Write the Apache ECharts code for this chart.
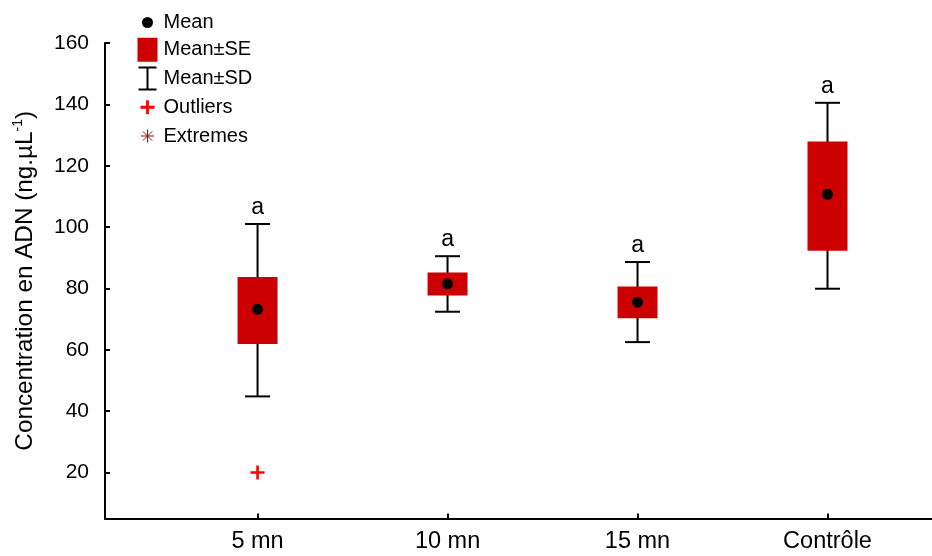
<!DOCTYPE html>
<html>
<head>
<meta charset="utf-8">
<script src="https://cdn.jsdelivr.net/npm/echarts@6/dist/echarts.min.js"></script>
<style>
html,body{margin:0;padding:0;background:#fff;}
#chart{width:932px;height:556px;}
</style>
</head>
<body>
<div id="chart"></div>
<script>
// ---- data ----
const categories = ['5 mn', '10 mn', '15 mn', 'Contrôle'];
const xPositions = [1, 2, 3, 4];
const means  = [73.2, 81.5, 75.5, 110.7];
const seLow  = [61.9, 77.7, 70.3, 92.3];
const seHigh = [83.7, 85.2, 80.6, 127.9];
const sdLow  = [44.8, 72.4, 62.5, 79.9];
const sdHigh = [101.0, 90.5, 88.6, 140.5];
const letters = ['a', 'a', 'a', 'a'];
const outlierCats = ['5 mn'];
const outlierValues = [20.0];
const yTicks = [20, 40, 60, 80, 100, 120, 140, 160];

const FONT = '"Liberation Sans", Arial, sans-serif';
const BOX_RED = '#cc0000';

const sdData = xPositions.map((x, i) => [x, sdLow[i], sdHigh[i]]);
const seData = xPositions.map((x, i) => [x, seLow[i], seHigh[i]]);
const meanData = xPositions.map((x, i) => [x, means[i]]);
const outlierData = outlierCats.map((c, i) => [xPositions[categories.indexOf(c)], outlierValues[i]]);

const chart = echarts.init(document.getElementById('chart'), null, {renderer: 'canvas'});

// legend icons drawn in an 18x22 box (strokes add to the outer size)
const iconMean = 'path://M0 0 M18 22 M3.5 11 A5.5 5.5 0 1 0 14.5 11 A5.5 5.5 0 1 0 3.5 11 Z';
const iconSE = 'path://M0 0 L18 0 L18 22 L0 22 Z';
const iconSD = 'path://M0 0 M18 22 M0 0 L18 0 M9 0 L9 22 M0 22 L18 22';
const iconOut = 'path://M0 0 M18 22 M7.6 4 L10.4 4 L10.4 9.6 L16 9.6 L16 12.4 L10.4 12.4 L10.4 18 L7.6 18 L7.6 12.4 L2 12.4 L2 9.6 L7.6 9.6 Z';
const iconExt = 'path://M0 0 M18 22 M9 4.5 L9 17.5 M2.5 11 L15.5 11 M4.4 6.4 L13.6 15.6 M13.6 6.4 L4.4 15.6';
const plusSymbol = 'path://M5.7 0 L8.3 0 L8.3 5.7 L14 5.7 L14 8.3 L8.3 8.3 L8.3 14 L5.7 14 L5.7 8.3 L0 8.3 L0 5.7 L5.7 5.7 Z';

const option = {
  animation: false,
  backgroundColor: '#fff',
  textStyle: {fontFamily: FONT, color: '#000'},
  grid: {left: 105, right: 0, top: 43, bottom: 37.5, containLabel: false},
  legend: {
    orient: 'vertical',
    left: 136,
    top: 10.5,
    padding: 0,
    itemWidth: 18,
    itemHeight: 22,
    itemGap: 3.25,
    selectedMode: false,
    textStyle: {fontSize: 20, lineHeight: 24, color: '#000', fontFamily: FONT, padding: [0, 0, 0, 2]},
    data: [
      {name: 'Mean', icon: iconMean, itemStyle: {color: '#000', borderWidth: 0, opacity: 1}},
      {name: 'Mean±SE', icon: iconSE, itemStyle: {color: BOX_RED, borderColor: BOX_RED, borderWidth: 2, opacity: 1}},
      {name: 'Mean±SD', icon: iconSD, itemStyle: {color: 'none', borderColor: '#000', borderWidth: 2, opacity: 1}},
      {name: 'Outliers', icon: iconOut, itemStyle: {color: '#ff0000', borderWidth: 0, opacity: 1}},
      {name: 'Extremes', icon: iconExt, itemStyle: {color: 'none', borderColor: '#8b1010', borderWidth: 1, opacity: 1}}
    ]
  },
  xAxis: {
    type: 'value',
    min: 0.197,
    max: 4.55,
    splitLine: {show: false},
    axisLine: {show: true, onZero: false, lineStyle: {color: '#000', width: 2}},
    axisTick: {show: true, inside: true, length: 5, customValues: xPositions, lineStyle: {color: '#000', width: 2}},
    axisLabel: {
      customValues: xPositions,
      margin: 11,
      fontSize: 23.5,
      color: '#000',
      fontFamily: FONT,
      formatter: v => categories[xPositions.indexOf(Math.round(v))] || ''
    }
  },
  yAxis: {
    type: 'value',
    min: 5,
    max: 160,
    splitLine: {show: false},
    axisLine: {show: true, onZero: false, lineStyle: {color: '#000', width: 2}},
    axisTick: {show: true, inside: true, length: 5, customValues: yTicks, lineStyle: {color: '#000', width: 2}},
    axisLabel: {customValues: yTicks, margin: 16, fontSize: 21, color: '#000', fontFamily: FONT},
    name: 'Concentration en ADN (ng.µL{sup|-1})',
    nameLocation: 'middle',
    nameGap: 66,
    nameTextStyle: {
      fontSize: 24.3, color: '#000', fontFamily: FONT, lineHeight: 28,
      rich: {sup: {fontSize: 14, verticalAlign: 'top', lineHeight: 28, color: '#000', fontFamily: FONT}}
    }
  },
  series: [
    {
      name: 'Mean±SD',
      type: 'custom',
      z: 2,
      data: sdData,
      encode: {x: 0, y: [1, 2]},
      renderItem: (params, api) => {
        const x = api.value(0);
        const top = api.coord([x, api.value(2)]);
        const bot = api.coord([x, api.value(1)]);
        const half = 12.5;
        const ls = {stroke: '#000', lineWidth: 2};
        return {
          type: 'group',
          children: [
            {type: 'line', shape: {x1: top[0], y1: top[1], x2: bot[0], y2: bot[1]}, style: ls},
            {type: 'line', shape: {x1: top[0] - half, y1: top[1], x2: top[0] + half, y2: top[1]}, style: ls},
            {type: 'line', shape: {x1: bot[0] - half, y1: bot[1], x2: bot[0] + half, y2: bot[1]}, style: ls},
            {type: 'text', style: {text: letters[params.dataIndex], x: top[0], y: top[1] - 16.5,
              align: 'center', verticalAlign: 'middle', fontSize: 23, fontFamily: FONT, fill: '#000'}}
          ]
        };
      }
    },
    {
      name: 'Mean±SE',
      type: 'custom',
      z: 3,
      data: seData,
      encode: {x: 0, y: [1, 2]},
      renderItem: (params, api) => {
        const x = api.value(0);
        const top = api.coord([x, api.value(2)]);
        const bot = api.coord([x, api.value(1)]);
        const half = 20;
        return {
          type: 'rect',
          shape: {x: top[0] - half, y: top[1], width: half * 2, height: bot[1] - top[1]},
          style: {fill: BOX_RED}
        };
      }
    },
    {
      name: 'Mean',
      type: 'scatter',
      z: 4,
      symbol: 'circle',
      symbolSize: 11,
      itemStyle: {color: '#000', opacity: 1},
      data: meanData
    },
    {
      name: 'Outliers',
      type: 'scatter',
      z: 4,
      symbol: plusSymbol,
      symbolSize: 14,
      itemStyle: {color: '#ff0000', opacity: 1},
      data: outlierData
    },
    {
      name: 'Extremes',
      type: 'scatter',
      z: 4,
      itemStyle: {color: '#8b1010', opacity: 1},
      data: []
    }
  ]
};
chart.setOption(option);
</script>
</body>
</html>
